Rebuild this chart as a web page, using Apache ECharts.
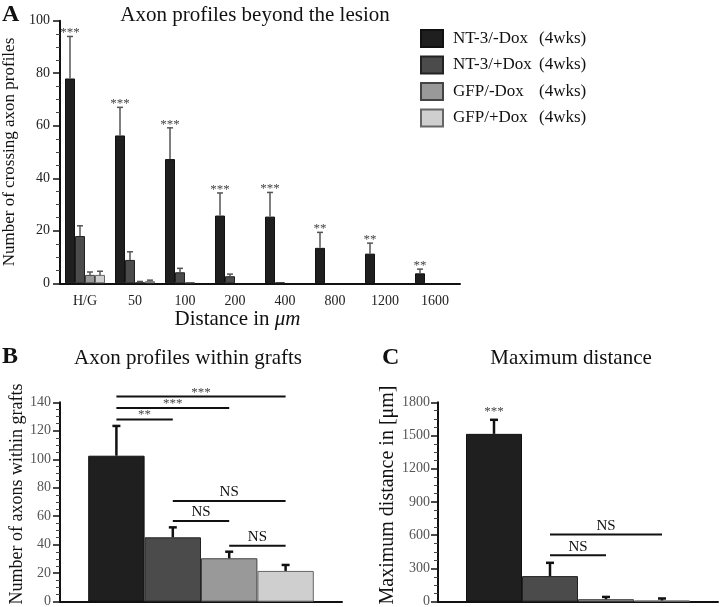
<!DOCTYPE html>
<html><head><meta charset="utf-8">
<script src="https://cdn.jsdelivr.net/npm/echarts@6/dist/echarts.min.js"></script>
<style>html,body{margin:0;padding:0;background:#fff}#c{width:720px;height:607px}</style>
</head><body><div id="c"></div>
<script>
// ---------- DATA ----------
const groupNames = ['NT-3/-Dox', 'NT-3/+Dox', 'GFP/-Dox', 'GFP/+Dox'];
const distCats = ['H/G', '50', '100', '200', '400', '800', '1200', '1600'];
// Panel A: means and (upper) SEM
const ntMinusA = [78, 56.3, 47.3, 25.8, 25.4, 13.5, 11.3, 3.8];
const ntMinusErrA = [16, 10.7, 11.9, 8.6, 9.2, 5.9, 4.0, 1.6];
const ntPlusA = [18, 8.9, 4.2, 2.7, 0.3, 0, 0, 0];
const ntPlusErrA = [3.9, 3.1, 1.5, 0.8, 0, 0, 0, 0];
const gfpMinusA = [3.2, 0.5, 0.3, 0, 0, 0, 0, 0];
const gfpMinusErrA = [1.1, 0.2, 0, 0, 0, 0, 0, 0];
const gfpPlusA = [3.2, 0.8, 0, 0, 0, 0, 0, 0];
const gfpPlusErrA = [1.4, 0.4, 0, 0, 0, 0, 0, 0];
const starsA = ['***', '***', '***', '***', '***', '**', '**', '**'];
// Panel B
const valsB = [102.5, 45.2, 30.5, 21.6];
const errB = [20.9, 7.0, 4.6, 4.2];
const sigB = [[1, 2, 128, '**'], [1, 3, 136, '***'], [1, 4, 144, '***'], [2, 4, 70.7, 'NS'], [2, 3, 56.7, 'NS'], [3, 4, 39.3, 'NS']];
// Panel C
const valsC = [1515, 231, 23, 11];
const errC = [127, 120, 20, 18];
const sigC = [[1, 1, 1642, '***'], [2, 4, 606, 'NS'], [2, 3, 420, 'NS']];

// ---------- STYLE ----------
const SERIF = '"Liberation Serif", "DejaVu Serif", serif';
const colors = ['#1f1f1f', '#4b4b4b', '#999999', '#cfcfcf'];
const borders = ['#111', '#222', '#444', '#666'];

const chart = echarts.init(document.getElementById('c'));

const seriesA = [ntMinusA, ntPlusA, gfpMinusA, gfpPlusA];
const errsA = [ntMinusErrA, ntPlusErrA, gfpMinusErrA, gfpPlusErrA];

const series = [];
seriesA.forEach((d, k) => {
  series.push({
    type: 'bar', name: groupNames[k], xAxisIndex: 0, yAxisIndex: 0,
    data: d.map(v => v === 0 ? { value: 0, itemStyle: { borderWidth: 0 } } : v),
    barGap: '0%', barCategoryGap: '20%',
    itemStyle: { color: colors[k], borderColor: borders[k], borderWidth: 1 },
    emphasis: { disabled: true }, animation: false
  });
});
seriesA.forEach((d, k) => {
  series.push({
    type: 'custom', xAxisIndex: 0, yAxisIndex: 0, z: 5, animation: false, clip: false,
    data: d.map((v, i) => [i, v, errsA[k][i]]),
    renderItem: function (params, api) {
      const i = api.value(0), v = api.value(1), e = api.value(2);
      if (!(e > 0)) return null;
      const bw = api.size([1, 0])[0] * 0.8 / 4;
      const b = api.coord([i, v]);
      const t = api.coord([i, v + e]);
      const x = b[0] + (k - 1.5) * bw;
      return { type: 'group', children: [
        { type: 'line', shape: { x1: x, y1: b[1], x2: x, y2: t[1] }, style: { stroke: '#555', lineWidth: 1.5 } },
        { type: 'line', shape: { x1: x - 3, y1: t[1], x2: x + 3, y2: t[1] }, style: { stroke: '#555', lineWidth: 1.5 } }
      ]};
    }
  });
});
// stars A
series.push({
  type: 'custom', xAxisIndex: 0, yAxisIndex: 0, z: 6, animation: false, clip: false,
  data: ntMinusA.map((v, i) => [i, v + ntMinusErrA[i]]),
  renderItem: function (params, api) {
    const bw = api.size([1, 0])[0] * 0.8 / 4;
    const p = api.coord([api.value(0), api.value(1)]);
    return { type: 'text', style: { text: starsA[params.dataIndex], x: p[0] - 1.5 * bw, y: p[1] + 3, align: 'center', verticalAlign: 'bottom', font: '13px ' + SERIF, fill: '#444' } };
  }
});

function barPanel(xi, vals, errs, sig, nameSuffix) {
  series.push({
    type: 'bar', xAxisIndex: xi, yAxisIndex: xi, barWidth: xi === 1 ? 56.4 : 56,
    name: 'panel' + nameSuffix, animation: false, emphasis: { disabled: true },
    data: vals.map((v, i) => ({ value: [i + 1, v], itemStyle: { color: colors[i], borderColor: borders[i], borderWidth: 1 } }))
  });
  series.push({
    type: 'custom', xAxisIndex: xi, yAxisIndex: xi, z: 5, animation: false, clip: false,
    data: vals.map((v, i) => [i + 1, v, errs[i]]),
    renderItem: function (params, api) {
      const x0 = api.value(0), v = api.value(1), e = api.value(2);
      const b = api.coord([x0, v]);
      const t = api.coord([x0, v + e]);
      return { type: 'group', children: [
        { type: 'line', shape: { x1: b[0], y1: b[1], x2: b[0], y2: t[1] }, style: { stroke: '#111', lineWidth: 2.5 } },
        { type: 'line', shape: { x1: b[0] - 4, y1: t[1], x2: b[0] + 4, y2: t[1] }, style: { stroke: '#111', lineWidth: 2.5 } }
      ]};
    }
  });
  series.push({
    type: 'custom', xAxisIndex: xi, yAxisIndex: xi, z: 6, animation: false, clip: false,
    data: sig.map(s => [s[0], s[1], s[2]]),
    renderItem: function (params, api) {
      const s = sig[params.dataIndex];
      const p1 = api.coord([s[0], s[2]]);
      const p2 = api.coord([s[1], s[2]]);
      const isNS = s[3] === 'NS';
      const children = [];
      if (s[0] !== s[1]) {
        children.push({ type: 'line', shape: { x1: p1[0], y1: p1[1], x2: p2[0], y2: p2[1] }, style: { stroke: '#111', lineWidth: 2 } });
      }
      children.push({ type: 'text', style: { text: s[3], x: (p1[0] + p2[0]) / 2, y: p1[1] + (s[0] === s[1] ? -2 : (isNS ? -1 : 2)), align: 'center', verticalAlign: 'bottom',
        font: (isNS ? '15px ' : '13px ') + SERIF, fill: isNS ? '#111' : '#444' } });
      return { type: 'group', children };
    }
  });
}
barPanel(1, valsB, errB, sigB, 'B');
barPanel(2, valsC, errC, sigC, 'C');

const yAxisCommon = {
  type: 'value', min: 0, splitLine: { show: false },
  axisLine: { show: true, lineStyle: { color: '#111', width: 2 } },
  axisTick: { show: true, length: 7, lineStyle: { color: '#111', width: 1.5 } },
  minorTick: { show: true, splitNumber: 4, length: 4, lineStyle: { color: '#444', width: 1 } },
  nameLocation: 'middle', nameRotate: 90
};

const option = {
  animation: false,
  backgroundColor: '#fff',
  title: [
    { text: 'A', left: -3, top: -2, textStyle: { fontFamily: SERIF, fontSize: 24, fontWeight: 'bold', color: '#111' } },
    { text: 'Axon profiles beyond the lesion', left: 250, top: 0, textAlign: 'center', textStyle: { fontFamily: SERIF, fontSize: 21, fontWeight: 'normal', color: '#111' } },
    { text: 'B', left: -3, top: 340, textStyle: { fontFamily: SERIF, fontSize: 24, fontWeight: 'bold', color: '#111' } },
    { text: 'Axon profiles within grafts', left: 183, top: 343, textAlign: 'center', textStyle: { fontFamily: SERIF, fontSize: 21, fontWeight: 'normal', color: '#111' } },
    { text: 'C', left: 377, top: 341, textStyle: { fontFamily: SERIF, fontSize: 24, fontWeight: 'bold', color: '#111' } },
    { text: 'Maximum distance', left: 566, top: 343, textAlign: 'center', textStyle: { fontFamily: SERIF, fontSize: 21, fontWeight: 'normal', color: '#111' } }
  ],
  legend: {
    orient: 'vertical', left: 420, top: 29, padding: 0, itemWidth: 22, itemHeight: 17, itemGap: 7.5,
    icon: 'rect', data: groupNames, selectedMode: false,
    formatter: n => '{a|' + n + '}{b|(4wks)}',
    textStyle: { fontFamily: SERIF, fontSize: 17, color: '#111', padding: [0, 0, 0, 5],
      rich: { a: { width: 86, fontFamily: SERIF, fontSize: 17, color: '#111' }, b: { fontFamily: SERIF, fontSize: 17, color: '#111' } } }
  },
  grid: [
    { left: 60, top: 20.7, width: 400, height: 262.6, outerBoundsMode: 'none', containLabel: false },
    { left: 60, top: 402.3, width: 282, height: 199.4, outerBoundsMode: 'none', containLabel: false },
    { left: 438, top: 402.3, width: 280, height: 199.4, outerBoundsMode: 'none', containLabel: false }
  ],
  xAxis: [
    { type: 'category', gridIndex: 0, data: distCats,
      axisLine: { lineStyle: { color: '#111', width: 2 } }, axisTick: { show: false },
      axisLabel: { fontFamily: SERIF, fontSize: 14, color: '#222', margin: 11 },
      name: 'Distance in {i|μm}', nameLocation: 'middle', nameGap: 25,
      nameTextStyle: { fontFamily: SERIF, fontSize: 21, color: '#111', padding: [0, 45, 0, 0],
        rich: { i: { fontFamily: SERIF, fontSize: 21, fontStyle: 'italic', color: '#111' } } } },
    { type: 'value', gridIndex: 1, min: 0, max: 5, axisLine: { show: true, onZero: false, lineStyle: { color: '#111', width: 2 } },
      axisTick: { show: false }, axisLabel: { show: false }, splitLine: { show: false } },
    { type: 'value', gridIndex: 2, min: 0, max: 5, axisLine: { show: true, onZero: false, lineStyle: { color: '#111', width: 2 } },
      axisTick: { show: false }, axisLabel: { show: false }, splitLine: { show: false } }
  ],
  yAxis: [
    Object.assign({}, yAxisCommon, { gridIndex: 0, max: 100, interval: 20,
      axisLabel: { fontFamily: SERIF, fontSize: 14, color: '#222', margin: 10 },
      name: 'Number of crossing axon profiles', nameGap: 34,
      nameTextStyle: { fontFamily: SERIF, fontSize: 17, color: '#111' } }),
    Object.assign({}, yAxisCommon, { gridIndex: 1, max: 140, interval: 20,
      axisLabel: { fontFamily: SERIF, fontSize: 14, color: '#555', margin: 9, formatter: v => String(v) },
      name: 'Number of axons within grafts', nameGap: 31,
      nameTextStyle: { fontFamily: SERIF, fontSize: 18, color: '#111', padding: [0, 0, 0, 16] } }),
    Object.assign({}, yAxisCommon, { gridIndex: 2, max: 1800, interval: 300,
      axisLabel: { fontFamily: SERIF, fontSize: 14, color: '#555', margin: 8, formatter: v => String(v) },
      name: 'Maximum distance in [μm]', nameGap: 40,
      nameTextStyle: { fontFamily: SERIF, fontSize: 20, color: '#111', padding: [0, 0, 0, 14] } })
  ],
  series: series
};
chart.setOption(option);
</script>
</body></html>
